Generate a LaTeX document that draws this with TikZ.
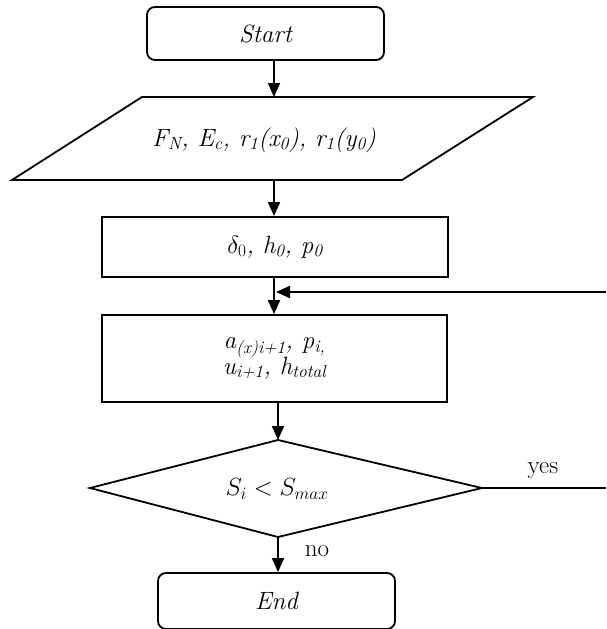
\documentclass[tikz,border=0pt]{standalone}
\usetikzlibrary{arrows.meta}
\begin{document}
\begin{tikzpicture}[x=1pt,y=-1pt,line width=1.8pt,
  bigfont/.style={font=\fontsize{25}{25}\selectfont},
  txt/.style={font=\fontsize{25}{25}\selectfont\itshape, inner sep=0pt},
  term/.style={draw, rounded corners=8pt, minimum height=53pt, inner sep=0pt, font=\fontsize{25}{25}\selectfont\itshape},
  proc/.style={draw, inner sep=0pt, align=center, font=\fontsize{25}{25}\selectfont\itshape},
  lab/.style={font=\fontsize{25}{25}\selectfont, inner sep=0pt},
  arr/.style={-{Triangle[length=14pt,width=12pt]}}]
\useasboundingbox (0,0) rectangle (606,629);
% Start
\node[term, minimum width=237pt] (start) at (265.5,33.5) {Start};
% input parallelogram
\draw (142,97) -- (533,97) -- (402,180) -- (12,180) -- cycle;
\node[txt] (para) at (264,140) {F\textsubscript{N}, E\textsubscript{c}, r\textsubscript{1}(x\textsubscript{0}), r\textsubscript{1}(y\textsubscript{0})};
\coordinate (paratop) at (274,97);
\coordinate (parabot) at (274,180);
% box 2
\node[proc, minimum width=346pt, minimum height=60pt] (init) at (275,247) {$\delta_0$, h\textsubscript{0}, p\textsubscript{0}};
% box 3
\node[proc, minimum width=345pt, minimum height=87pt] (calc) at (274.5,358.5) {a\textsubscript{(x)i+1}, p\textsubscript{i,}\\[-2pt] u\textsubscript{i+1}, h\textsubscript{total}};
% decision
\draw (90,488) -- (278,440) -- (482,488) -- (278,537) -- cycle;
\coordinate (dtop) at (278,440);
\coordinate (dbot) at (278,537);
\coordinate (dright) at (482,488);
\node[inner sep=0pt, bigfont] (dec) at (277,489) {$S_i < S_{max}$};
% end
\node[term, minimum width=237pt, minimum height=56pt] (end) at (276.5,601) {End};
% connectors
\draw[arr] (start.south -| paratop) -- (paratop);
\draw[arr] (parabot) -- (parabot |- init.north);
\draw[arr] (init.south -| parabot) -- (calc.north -| parabot);
\coordinate (loopin) at (606,292);
\coordinate (join) at (276,292);
\draw[arr] (loopin) -- (join);
\draw[arr] (calc.south -| dtop) -- (dtop);
\coordinate (yesend) at (606,488);
\draw (dright) -- (yesend);
\node[lab] (yes) at (543,471) {yes};
\draw[arr] (dbot) -- (end.north -| dbot);
\node[lab] (no) at (317,551) {no};
\end{tikzpicture}
\end{document}
